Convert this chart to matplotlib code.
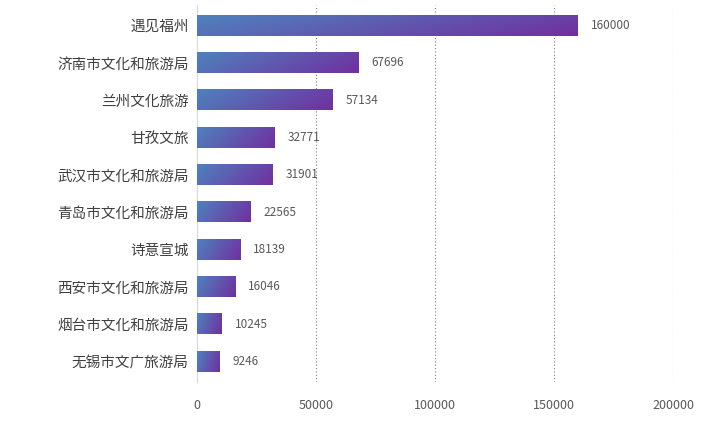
import numpy as np
import matplotlib
matplotlib.use("Agg")
import matplotlib.pyplot as plt
from matplotlib import font_manager as fm
from matplotlib.colors import LinearSegmentedColormap

cjk = None
for f in fm.findSystemFonts():
    if "NotoSansCJK" in f.replace(" ", "") or "CJK" in f:
        fm.fontManager.addfont(f)
        if cjk is None or "Regular" in f:
            cjk = fm.FontProperties(fname=f).get_name()
plt.rcParams["font.family"] = [cjk or "Noto Sans CJK SC", "DejaVu Sans"]

categories = ["遇见福州", "济南市文化和旅游局", "兰州文化旅游", "甘孜文旅", "武汉市文化和旅游局",
              "青岛市文化和旅游局", "诗意宣城", "西安市文化和旅游局", "烟台市文化和旅游局", "无锡市文广旅游局"]
values = [160000, 67696, 57134, 32771, 31901, 22565, 18139, 16046, 10245, 9246]
xticks = [0, 50000, 100000, 150000, 200000]

fig = plt.figure(figsize=(7.2, 4.26), dpi=100)
ax = fig.add_axes([197/720, 1-382/426, (673-197)/720, 377/426])
cmap = LinearSegmentedColormap.from_list("g", ["#4f81bd", "#7030a0"])
n = len(categories)
ys = np.arange(n)[::-1]
h = 0.55
for y, v in zip(ys, values):
    gx = np.linspace(0, 1, 100)[None, :]
    gy = np.linspace(0, 1, 10)[:, None]
    grad = 0.8 * gx + 0.2 * gy
    ax.imshow(grad, cmap=cmap, vmin=0, vmax=1, aspect="auto", origin="upper",
              extent=[0, v, y - h/2, y + h/2], zorder=3, interpolation="bilinear")
    ax.text(v + 5500, y, str(v), va="center", ha="left", fontsize=8.5, color="#595959", clip_on=False)
ax.set_xlim(0, 200000)
ax.set_ylim(-0.55, n - 0.45)
ax.set_yticks(ys)
ax.set_yticklabels(categories, fontsize=10.5, color="#404040")
ax.set_xticks(xticks)
ax.set_xticklabels([str(t) for t in xticks], fontsize=9, color="#595959")
ax.tick_params(length=0, pad=6)
ax.tick_params(axis="x", pad=12)
for s in ["top", "right", "bottom"]:
    ax.spines[s].set_visible(False)
ax.spines["left"].set_color("#d9d9d9")
ax.grid(axis="x", linestyle=(0, (1, 2)), color="#7f7f7f", linewidth=0.8, zorder=0)
ax.set_axisbelow(True)
fig.savefig("out.png", dpi=100)
